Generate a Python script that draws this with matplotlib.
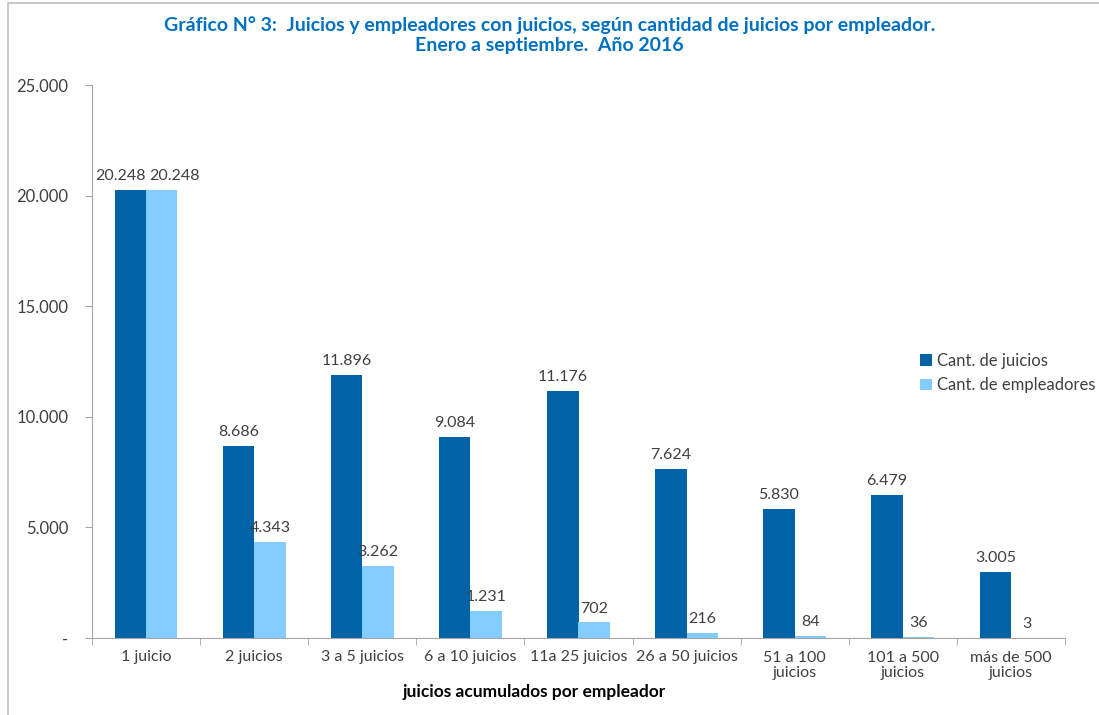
import matplotlib
matplotlib.use("Agg")
import matplotlib.pyplot as plt
import numpy as np
from matplotlib.patches import Rectangle

categories = ["1 juicio", "2 juicios", "3 a 5 juicios", "6 a 10 juicios", "11a 25 juicios",
              "26 a 50 juicios", "51 a 100\njuicios", "101 a 500\njuicios", "más de 500\njuicios"]
juicios = [20248, 8686, 11896, 9084, 11176, 7624, 5830, 6479, 3005]
empleadores = [20248, 4343, 3262, 1231, 702, 216, 84, 36, 3]
series_names = ["Cant. de juicios", "Cant. de empleadores"]
yticks = [0, 5000, 10000, 15000, 20000, 25000]
ytick_labels = ["-", "5.000", "10.000", "15.000", "20.000", "25.000"]

plt.rcParams['font.family'] = ['Lato', 'DejaVu Sans']
dark = "#0063A7"
light = "#82CCFF"
txt = "#404040"
axc = "#A6A6A6"

fig = plt.figure(figsize=(10.99, 7.15), dpi=100)
ax = fig.add_axes([92/1099, 1-638/715, (1065-92)/1099, (638-85)/715])

x = np.arange(len(categories))
w = 0.29
b1 = ax.bar(x - w/2, juicios, w, color=dark, label=series_names[0])
b2 = ax.bar(x + w/2, empleadores, w, color=light, label=series_names[1])

def fmt(v):
    return f"{v:,}".replace(",", ".")

for i, (r1, r2, v1, v2) in enumerate(zip(b1, b2, juicios, empleadores)):
    if abs(v1 - v2) < 1500:
        # labels would collide: push them apart
        ax.annotate(fmt(v1), (r1.get_x() + r1.get_width(), v1), xytext=(0, 5),
                    textcoords="offset points", ha="right", va="bottom", fontsize=11.5, color=txt)
        ax.annotate(fmt(v2), (r2.get_x(), v2), xytext=(2, 5),
                    textcoords="offset points", ha="left", va="bottom", fontsize=11.5, color=txt)
    else:
        ax.annotate(fmt(v1), (r1.get_x() + r1.get_width()/2, v1), xytext=(0, 5),
                    textcoords="offset points", ha="center", va="bottom", fontsize=11.5, color=txt)
        ax.annotate(fmt(v2), (r2.get_x() + r2.get_width()/2, v2), xytext=(0, 5),
                    textcoords="offset points", ha="center", va="bottom", fontsize=11.5, color=txt)

ax.set_xlim(-0.5, len(categories) - 0.5)
ax.set_ylim(0, 25000)
ax.set_yticks(yticks)
ax.set_yticklabels(ytick_labels, fontsize=12, color=txt)
ax.set_xticks(x)
ax.set_xticklabels(categories, fontsize=11.5, color=txt, linespacing=1.1)
ax.tick_params(axis='x', length=0, pad=9)
ax.set_xticks(np.arange(-0.5, len(categories)), minor=True)
ax.tick_params(axis='x', which='minor', length=5, color=axc)
ax.tick_params(axis='y', length=5, color=axc, pad=12)
for s in ("top", "right"):
    ax.spines[s].set_visible(False)
ax.spines["left"].set_color(axc)
ax.spines["bottom"].set_color(axc)

fig.text(534/1099, 1-692/715, "juicios acumulados por empleador", ha="center", va="center",
         fontsize=12.5, fontweight="bold", color="black")

fig.text(0.5, 1-35/715, "Gráfico N° 3:  Juicios y empleadores con juicios, según cantidad de juicios por empleador.\nEnero a septiembre.  Año 2016",
         ha="center", va="center", fontsize=14, fontweight="bold", color="#0070C0", linespacing=1.2)

leg = ax.legend(loc="upper left", bbox_to_anchor=(905/1099, 1-338/715), bbox_transform=fig.transFigure,
                frameon=False, fontsize=12, handlelength=0.7, handleheight=0.7, handletextpad=0.3,
                labelspacing=0.5)
for t in leg.get_texts():
    t.set_color(txt)

fig.patches.append(Rectangle((8/1099, -0.1), 1.2, 1.1 - 3/715, transform=fig.transFigure,
                             fill=False, edgecolor="#BFBFBF", linewidth=1.2))

fig.savefig("out.png", dpi=100)
